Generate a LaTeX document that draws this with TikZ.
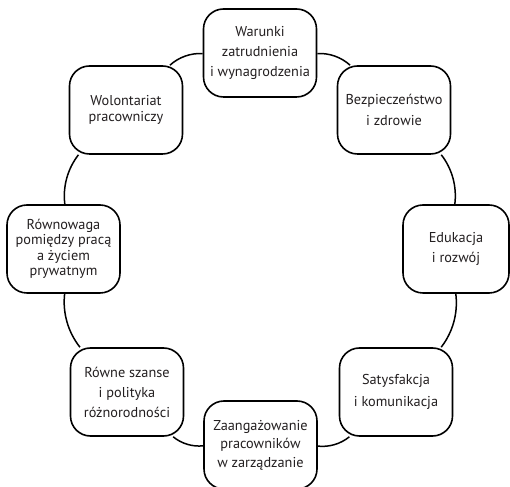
\documentclass[tikz,border=0pt]{standalone}
\usepackage{fontspec}
\setmainfont{PT Sans}
\definecolor{ink}{HTML}{231F20}
\begin{document}
\begin{tikzpicture}[x=1pt,y=1pt,
  box/.style={draw=black, line width=1.6pt, rounded corners=20pt, fill=white,
    minimum width=113pt, minimum height=88pt, align=center, text=ink,
    inner sep=2pt, font={\fontsize{14.3}{20}\selectfont}},
  link/.style={draw=black, line width=1.5pt, bend left=22.5, looseness=0.885}]
\useasboundingbox (0,0) rectangle (510,486);
\node[box] (W) at (260,433) {Warunki\\zatrudnienia\\i wynagrodzenia};
\node[box, font={\fontsize{14.3}{21.5}\selectfont}] (B) at (394,376) {Bezpieczeństwo\\i zdrowie};
\node[box, minimum width=106pt] (E) at (456,237) {Edukacja\\i rozwój};
\node[box, font={\fontsize{14.3}{21.5}\selectfont}] (S) at (396,94) {Satysfakcja\\i komunikacja};
\node[box, font={\fontsize{14.3}{18.5}\selectfont}] (Z) at (260.5,41) {Zaangażowanie\\pracowników\\w zarządzanie};
\node[box] (R) at (127,94) {Równe szanse\\i polityka\\różnorodności};
\node[box, font={\fontsize{14.3}{15.5}\selectfont}] (Rw) at (63.5,237) {Równowaga\\pomiędzy pracą\\a życiem\\prywatnym};
\node[box, font={\fontsize{14.3}{15.5}\selectfont}] (Wo) at (126,376) {Wolontariat\\pracowniczy};
\draw[link] (W) to (B);
\draw[link] (B) to (E);
\draw[link] (E) to (S);
\draw[link] (S) to (Z);
\draw[link] (Z) to (R);
\draw[link] (R) to (Rw);
\draw[link] (Rw) to (Wo);
\draw[link] (Wo) to (W);
\end{tikzpicture}
\end{document}
